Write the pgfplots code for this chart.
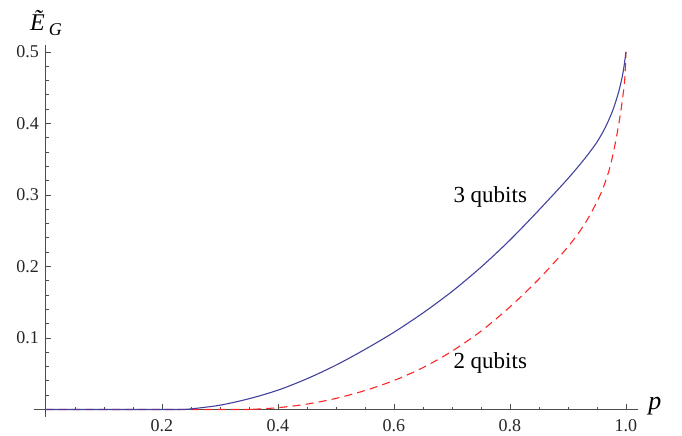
\documentclass[border=0pt]{standalone}
\usepackage{fontspec}
\setmainfont{Liberation Serif}
\usepackage{pgfplots}
\pgfplotsset{compat=1.18}
\definecolor{mmablue}{rgb}{0.26,0.26,0.62}
\definecolor{mmared}{rgb}{1,0.15,0.15}
\definecolor{axgray}{gray}{0.3}

\begin{document}
\begin{tikzpicture}
\begin{axis}[
  x=290pt, y=357.5pt,
  axis lines=middle, axis line style={-, draw=axgray, line width=0.5pt},
  xmin=-0.02, xmax=1.02, ymin=-0.0105, ymax=0.51,
  xtick={0.2,0.4,0.6,0.8,1.0}, ytick={0.1,0.2,0.3,0.4,0.5},
  minor xtick={0.05,0.1,...,1.0}, minor ytick={0.02,0.04,...,0.5},
  tick align=inside, major tick length=2.5pt, minor tick length=1.4pt,
  tick style={draw=axgray, line width=0.4pt},
  tick label style={font=\fontsize{9}{10}\selectfont, text=black!85},
  xticklabel style={yshift=-1.5pt},
  /pgf/number format/.cd, fixed, fixed zerofill, precision=1, assume math mode=true,
  /pgfplots/.cd, clip=false,
]
% 2 qubits
\addplot[mmared, line width=0.55pt, dash pattern=on 4pt off 2.6pt, smooth] coordinates {
(0,0) (0.333,0) (0.36,0.0004) (0.4,0.0025) (0.45,0.0075) (0.5,0.0155) (0.55,0.0265) (0.6,0.0405)
(0.65,0.0585) (0.7,0.0815) (0.75,0.1095) (0.8,0.1435) (0.85,0.1825) (0.9,0.2275) (0.93,0.261)
(0.955,0.299) (0.97,0.332) (0.98,0.366) (0.988,0.401) (0.994,0.434) (0.998,0.463) (1.0,0.5)};
% 3 qubits
\addplot[mmablue, line width=0.55pt, smooth] coordinates {
(0,0) (0.2,0) (0.23,0) (0.25,0.0008) (0.3,0.006) (0.35,0.015) (0.4,0.027) (0.45,0.043) (0.5,0.062)
(0.55,0.084) (0.6,0.108) (0.65,0.135) (0.7,0.165) (0.75,0.199) (0.8,0.237) (0.85,0.279)
(0.9,0.323) (0.93,0.352) (0.95,0.374) (0.965,0.3955) (0.978,0.42) (0.988,0.446) (0.995,0.4715) (1.0,0.5)};
\node[font=\fontsize{11.5}{12}\selectfont] at (axis cs:0.766,0.297) {3 qubits};
\node[font=\fontsize{11.5}{12}\selectfont] at (axis cs:0.766,0.065) {2 qubits};
\node[font=\fontsize{13}{14}\selectfont] at (axis cs:1.05,0.004) {\textit{p}};
\node[font=\fontsize{12}{13}\selectfont] at (axis cs:0.0,0.541) {\textit{\~E}\,\raisebox{-0.45ex}{\fontsize{9}{10}\selectfont\textit{G}}};
\coordinate (bl) at (axis cs:-0.0793,-0.0371);
\coordinate (tr) at (axis cs:1.0966,0.5727);
\end{axis}
\pgfresetboundingbox
\path[use as bounding box] (bl) rectangle (tr);
\end{tikzpicture}
\end{document}
